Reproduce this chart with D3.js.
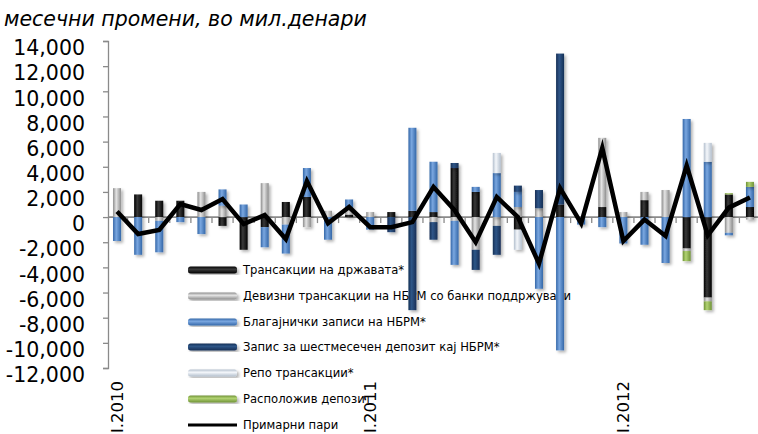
<!DOCTYPE html>
<html><head><meta charset="utf-8">
<script src="https://cdn.jsdelivr.net/npm/d3@7"></script>
<style>body{margin:0;background:#fff}svg{display:block}</style>
</head><body><svg id="c" width="758" height="434"></svg>
<script>
// ---- data (мил. денари, месечни промени) ----
const categories = ["I.2010","II.2010","III.2010","IV.2010","V.2010","VI.2010","VII.2010","VIII.2010","IX.2010","X.2010","XI.2010","XII.2010",
  "I.2011","II.2011","III.2011","IV.2011","V.2011","VI.2011","VII.2011","VIII.2011","IX.2011","X.2011","XI.2011","XII.2011",
  "I.2012","II.2012","III.2012","IV.2012","V.2012","VI.2012","VII.2012"];
const shownLabels = ["I.2010","I.2011","I.2012"];
const government = [0,1800,1300,1300,0,-700,-2600,-800,1200,1600,0,200, 0,400,500,400,3900,2000,0,-1000,0,1000,0,800, 0,1350,0,-2500,-6400,1800,800];
const fxSupport  = [2300,0,-300,0,2000,900,0,2700,-600,-800,500,500, 400,0,0,-400,-300,-2600,-700,800,700,0,0,5500, 400,650,2150,-200,-300,-1250,-200];
const cbBills    = [-1900,-3000,-2500,-400,-1350,1300,1000,-1600,-2300,2300,-1800,700, -1000,0,6600,4000,-3500,400,3500,1200,-5700,-10600,-600,-800, -2100,-2200,-3650,7800,4400,-200,1600];
const sixMonth   = [0,0,0,0,0,0,0,0,0,0,0,0, 0,-1200,-7400,-1400,400,-1600,-2300,500,1450,12000,0,0, 0,0,0,0,0,0,0];
const repo       = [0,0,0,0,0,0,0,0,0,0,0,0, 0,0,0,0,0,0,1600,-1600,0,0,0,0, 0,0,0,0,1500,0,0];
const deposit    = [0,0,0,0,0,0,0,0,0,0,0,0, 0,0,0,0,0,0,0,0,0,0,0,0, 0,0,0,-800,-700,100,400];
const primaryMoney = [450,-1350,-1030,1030,560,1430,-560,160,-1750,2860,-500,800, -800,-800,-400,2400,550,-2000,1600,0,-3700,2300,-500,5500, -1900,-200,-1500,4100,-1450,750,1550];
const yTicks = [-12000,-10000,-8000,-6000,-4000,-2000,0,2000,4000,6000,8000,10000,12000,14000];

const seriesNames = ["Трансакции на државата*","Девизни трансакции на НБРМ со банки поддржувачи","Благајнички записи на НБРМ*","Запис за шестмесечен депозит кај НБРМ*","Репо трансакции*","Расположив депозит"];
const lineName = "Примарни пари";
const seriesData = [government, fxSupport, cbBills, sixMonth, repo, deposit];
const colors = [
  {edge:"#000000", mid:"#3a3a3a"},
  {edge:"#8c8c8c", mid:"#e4e4e4"},
  {edge:"#3467a8", mid:"#7aa7e0"},
  {edge:"#162f55", mid:"#2f5688"},
  {edge:"#b3bfcd", mid:"#f4f7fb"},
  {edge:"#6f9236", mid:"#b2d373"}
];

const svg = d3.select("#c");
const defs = svg.append("defs");
colors.forEach((c,i)=>{
  const gh = defs.append("linearGradient").attr("id","gh"+i).attr("x1","0").attr("x2","1").attr("y1","0").attr("y2","0");
  gh.append("stop").attr("offset","0").attr("stop-color",c.edge);
  gh.append("stop").attr("offset","0.4").attr("stop-color",c.mid);
  gh.append("stop").attr("offset","1").attr("stop-color",c.edge);
  const gv = defs.append("linearGradient").attr("id","gv"+i).attr("x1","0").attr("x2","0").attr("y1","0").attr("y2","1");
  gv.append("stop").attr("offset","0").attr("stop-color",c.edge);
  gv.append("stop").attr("offset","0.4").attr("stop-color",c.mid);
  gv.append("stop").attr("offset","1").attr("stop-color",c.edge);
});
const f = defs.append("filter").attr("id","sh").attr("x","-50%").attr("y","-10%").attr("width","200%").attr("height","120%");
f.append("feDropShadow").attr("dx",2).attr("dy",2).attr("stdDeviation",1.6).attr("flood-color","#000").attr("flood-opacity",0.3);

const x = d3.scaleBand().domain(categories).range([106.5, 760.5]).padding(0);
const y = d3.scaleLinear().domain([-12000,14000]).range([368,41]);
const barW = 8;

// title
svg.append("text").attr("x",4).attr("y",26)
  .attr("font-family","DejaVu Sans").attr("font-style","italic").attr("font-size",20.5)
  .attr("fill","#000").text("месечни промени, во мил.денари");

// legend (drawn under the bars)
const legendY = [270,296,322,347,373,399,425];
const lg = svg.append("g").attr("font-family","DejaVu Sans").attr("font-size",11.6).attr("fill","#000");
seriesNames.forEach((n,i)=>{
  lg.append("rect").attr("x",188).attr("y",legendY[i]-3.5).attr("width",49).attr("height",7).attr("rx",2.5)
    .attr("fill",`url(#gv${i})`).attr("filter","url(#sh)");
  lg.append("text").attr("x",243).attr("y",legendY[i]+4.3).text(n);
});
lg.append("line").attr("x1",188).attr("x2",237).attr("y1",legendY[6]).attr("y2",legendY[6]).attr("stroke","#000").attr("stroke-width",3);
lg.append("text").attr("x",243).attr("y",legendY[6]+4.3).text(lineName);

// y axis
const yAxis = d3.axisLeft(y).tickValues(yTicks).tickSize(5).tickPadding(18)
  .tickFormat(d=>d3.format(",")(d).replace("−","-"));
const ya = svg.append("g").attr("transform","translate(108,0)").call(yAxis);
ya.select(".domain").attr("stroke","#8a8a8a").attr("stroke-width",1.3);
ya.selectAll(".tick line").attr("stroke","#8a8a8a").attr("stroke-width",1.3);
ya.selectAll(".tick text").attr("font-family","DejaVu Sans").attr("font-size",20.5).attr("fill","#000").attr("dy","0.67em");

// zero axis with category ticks
const xa = svg.append("g").attr("transform",`translate(0,${y(0)})`);
xa.append("line").attr("x1",108).attr("x2",758).attr("stroke","#8a8a8a").attr("stroke-width",1.6);
xa.selectAll("line.t").data(categories.slice(1)).join("line").attr("class","t")
  .attr("x1",d=>x(d)).attr("x2",d=>x(d)).attr("y1",0).attr("y2",6).attr("stroke","#8a8a8a").attr("stroke-width",1.3);

// category labels
svg.append("g").selectAll("text").data(shownLabels).join("text")
  .attr("transform",d=>`translate(${x(d)+x.bandwidth()/2+6},381) rotate(-90)`)
  .attr("text-anchor","end").attr("font-family","DejaVu Sans").attr("font-size",16.5).attr("fill","#000").text(d=>d);

// stacked bars
const rows = categories.map((c,j)=>{const o={cat:c}; seriesData.forEach((s,i)=>o["s"+i]=s[j]); return o;});
const stack = d3.stack().keys(seriesData.map((s,i)=>"s"+i)).offset(d3.stackOffsetDiverging);
const layers = stack(rows);
const bars = svg.append("g");
layers.forEach((layer,i)=>{
  bars.append("g").attr("filter","url(#sh)").selectAll("rect").data(layer.filter(d=>d[1]!==d[0])).join("rect")
    .attr("x",d=>x(d.data.cat)+x.bandwidth()/2-barW/2)
    .attr("width",barW)
    .attr("y",d=>y(Math.max(d[0],d[1])))
    .attr("height",d=>Math.abs(y(d[0])-y(d[1])))
    .attr("fill",`url(#gh${i})`);
});

// primary money line
const line = d3.line().x((d,j)=>x(categories[j])+x.bandwidth()/2).y(d=>y(d));
svg.append("path").datum(primaryMoney).attr("d",line).attr("fill","none")
  .attr("stroke","#000").attr("stroke-width",4.5).attr("stroke-linejoin","miter").attr("stroke-miterlimit",10);
</script></body></html>
